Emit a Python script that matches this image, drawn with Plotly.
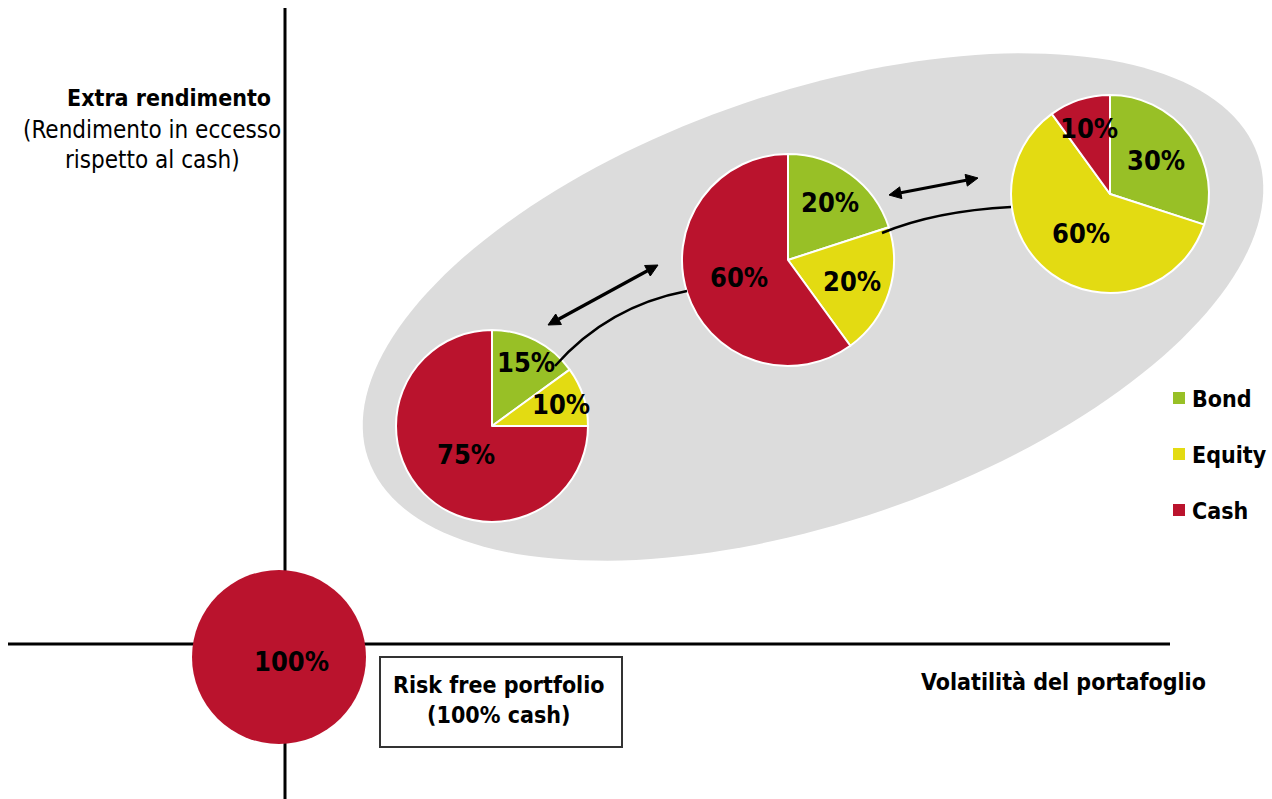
import numpy as np
import plotly.graph_objects as go

W, H = 1272, 799

# ---------------- data ----------------
categories = ["Bond", "Equity", "Cash"]
portfolio_low = [15, 10, 75]
portfolio_mid = [20, 20, 60]
portfolio_high = [30, 60, 10]
risk_free_categories = ["Cash"]
risk_free_values = [100]

legend_labels = ["Bond", "Equity", "Cash"]
y_title_bold = "Extra rendimento"
y_title_lines = ["(Rendimento in eccesso", "rispetto al cash)"]
x_title = "Volatilità del portafoglio"
box_text = "Risk free portfolio<br>(100% cash)"

# ---------------- styles / layout ----------------
colors = {"Bond": "#98C026", "Equity": "#E3DB12", "Cash": "#BA132D"}
ellipse_color = "#DCDCDC"
FONT = "Liberation Sans Narrow, DejaVu Sans Condensed, Arial Narrow, sans-serif"

pies = [
    dict(labels=categories, values=portfolio_low, cx=492, cy=426, r=96, frac=[0.75, 0.75, 0.40], nudge=(1, 0), border=2),
    dict(labels=categories, values=portfolio_mid, cx=788, cy=260, r=106, frac=[0.68, 0.63, 0.49], nudge=(0, 0), border=2),
    dict(labels=categories, values=portfolio_high, cx=1110, cy=194, r=99, frac=[0.57, 0.49, 0.70], nudge=(0, -1), border=2),
    dict(labels=risk_free_categories, values=risk_free_values, cx=279, cy=657, r=87, frac=[0.04], nudge=(12, 0), border=0),
]

fig = go.Figure()

# invisible pixel-space axes
fig.add_trace(go.Scatter(x=[0, W], y=[0, H], mode="markers", marker=dict(opacity=0),
                         hoverinfo="skip", showlegend=False))

shapes = []
annotations = []

# grey ellipse
cx_e, cy_e, a_e, b_e, th = 813, 307, 470, 215, np.deg2rad(18.8)
t = np.linspace(0, 2 * np.pi, 181)
ex = cx_e + a_e * np.cos(t) * np.cos(th) - b_e * np.sin(t) * np.sin(th)
ey = cy_e - (a_e * np.cos(t) * np.sin(th) + b_e * np.sin(t) * np.cos(th))
path = "M " + " L ".join(f"{x:.1f},{y:.1f}" for x, y in zip(ex, ey)) + " Z"
shapes.append(dict(type="path", path=path, xref="x", yref="y", fillcolor=ellipse_color,
                   line=dict(width=0), layer="below"))

# axes lines
shapes.append(dict(type="line", x0=285, x1=285, y0=8, y1=799, xref="x", yref="y",
                   line=dict(color="black", width=3), layer="below"))
shapes.append(dict(type="line", x0=8, x1=1170, y0=644, y1=644, xref="x", yref="y",
                   line=dict(color="black", width=3), layer="below"))

# pies
for p in pies:
    cx, cy, r = p["cx"], p["cy"], p["r"]
    fig.add_trace(go.Pie(
        labels=p["labels"], values=p["values"],
        marker=dict(colors=[colors[l] for l in p["labels"]],
                    line=dict(color="white", width=p["border"])),
        sort=False, direction="clockwise", rotation=0,
        textinfo="none", hoverinfo="label+percent", showlegend=False,
        domain=dict(x=[(cx - r) / W, (cx + r) / W], y=[1 - (cy + r) / H, 1 - (cy - r) / H]),
    ))
    vals = np.array(p["values"], dtype=float)
    cum = np.cumsum(vals)
    mid = np.deg2rad((cum - vals / 2) / vals.sum() * 360)
    dx, dy = p["nudge"]
    for v, m, f in zip(p["values"], mid, p["frac"]):
        annotations.append(dict(
            x=cx + f * r * np.sin(m) + dx, y=cy - f * r * np.cos(m) + 1 + dy, xref="x", yref="y",
            text=f"{v}%", showarrow=False, xanchor="center", yanchor="middle",
            font=dict(family=FONT, size=27, color="black", weight="bold")))

# double-headed arrows
def double_arrow(p0, p1, width=3.2, head_len=12, head_w=12):
    p0, p1 = np.array(p0, float), np.array(p1, float)
    d = (p1 - p0) / np.linalg.norm(p1 - p0)
    n = np.array([-d[1], d[0]])
    a0 = p0 + d * head_len
    a1 = p1 - d * head_len
    out = [dict(type="line", x0=a0[0], y0=a0[1], x1=a1[0], y1=a1[1], xref="x", yref="y",
                line=dict(color="black", width=width), layer="above")]
    for tip, base in ((p0, a0), (p1, a1)):
        q1 = base + n * head_w / 2
        q2 = base - n * head_w / 2
        out.append(dict(type="path", xref="x", yref="y", layer="above",
                        path=f"M {tip[0]:.1f},{tip[1]:.1f} L {q1[0]:.1f},{q1[1]:.1f} L {q2[0]:.1f},{q2[1]:.1f} Z",
                        fillcolor="black", line=dict(color="black", width=1)))
    return out

shapes += double_arrow((548, 325), (658, 265))
shapes += double_arrow((889, 195), (978, 178))

# connecting curves
shapes.append(dict(type="path", xref="x", yref="y", layer="above",
                   path="M 555,366 Q 608,306 687,291", line=dict(color="black", width=2.5)))
shapes.append(dict(type="path", xref="x", yref="y", layer="above",
                   path="M 882,233 Q 935,211 1011,207", line=dict(color="black", width=2.5)))

# risk free box
shapes.append(dict(type="rect", x0=380, x1=622, y0=657, y1=747, xref="x", yref="y",
                   line=dict(color="#333333", width=2), fillcolor="white", layer="above"))
annotations.append(dict(x=499, y=700, xref="x", yref="y", text=box_text, showarrow=False,
                        xanchor="center", yanchor="middle", align="center",
                        font=dict(family=FONT, size=23, color="black", weight="bold")))

# legend
legend_y = [398, 454, 510]
for lab, yy in zip(legend_labels, legend_y):
    shapes.append(dict(type="rect", x0=1173, x1=1185, y0=yy - 6, y1=yy + 6, xref="x", yref="y",
                       fillcolor=colors[lab], line=dict(width=0), layer="above"))
    annotations.append(dict(x=1190, y=yy + 1, xref="x", yref="y", text=lab, showarrow=False,
                            xanchor="left", yanchor="middle",
                            font=dict(family=FONT, size=23, color="black", weight="bold")))

# axis titles
annotations.append(dict(x=273, y=98, xref="x", yref="y", text=y_title_bold, showarrow=False,
                        xanchor="right", yanchor="middle",
                        font=dict(family=FONT, size=23, color="black", weight="bold")))
for txt, yy in zip(y_title_lines, [130, 160]):
    annotations.append(dict(x=152, y=yy, xref="x", yref="y", text=txt, showarrow=False,
                            xanchor="center", yanchor="middle",
                            font=dict(family=FONT, size=24, color="black")))
annotations.append(dict(x=1208, y=682, xref="x", yref="y", text=x_title, showarrow=False,
                        xanchor="right", yanchor="middle",
                        font=dict(family=FONT, size=23, color="black", weight="bold")))

fig.update_layout(
    width=W, height=H, margin=dict(l=0, r=0, t=0, b=0),
    paper_bgcolor="white", plot_bgcolor="white",
    xaxis=dict(range=[0, W], visible=False, domain=[0, 1], fixedrange=True),
    yaxis=dict(range=[H, 0], visible=False, domain=[0, 1], fixedrange=True),
    shapes=shapes, annotations=annotations, showlegend=False,
)

fig.write_html("out.html")
